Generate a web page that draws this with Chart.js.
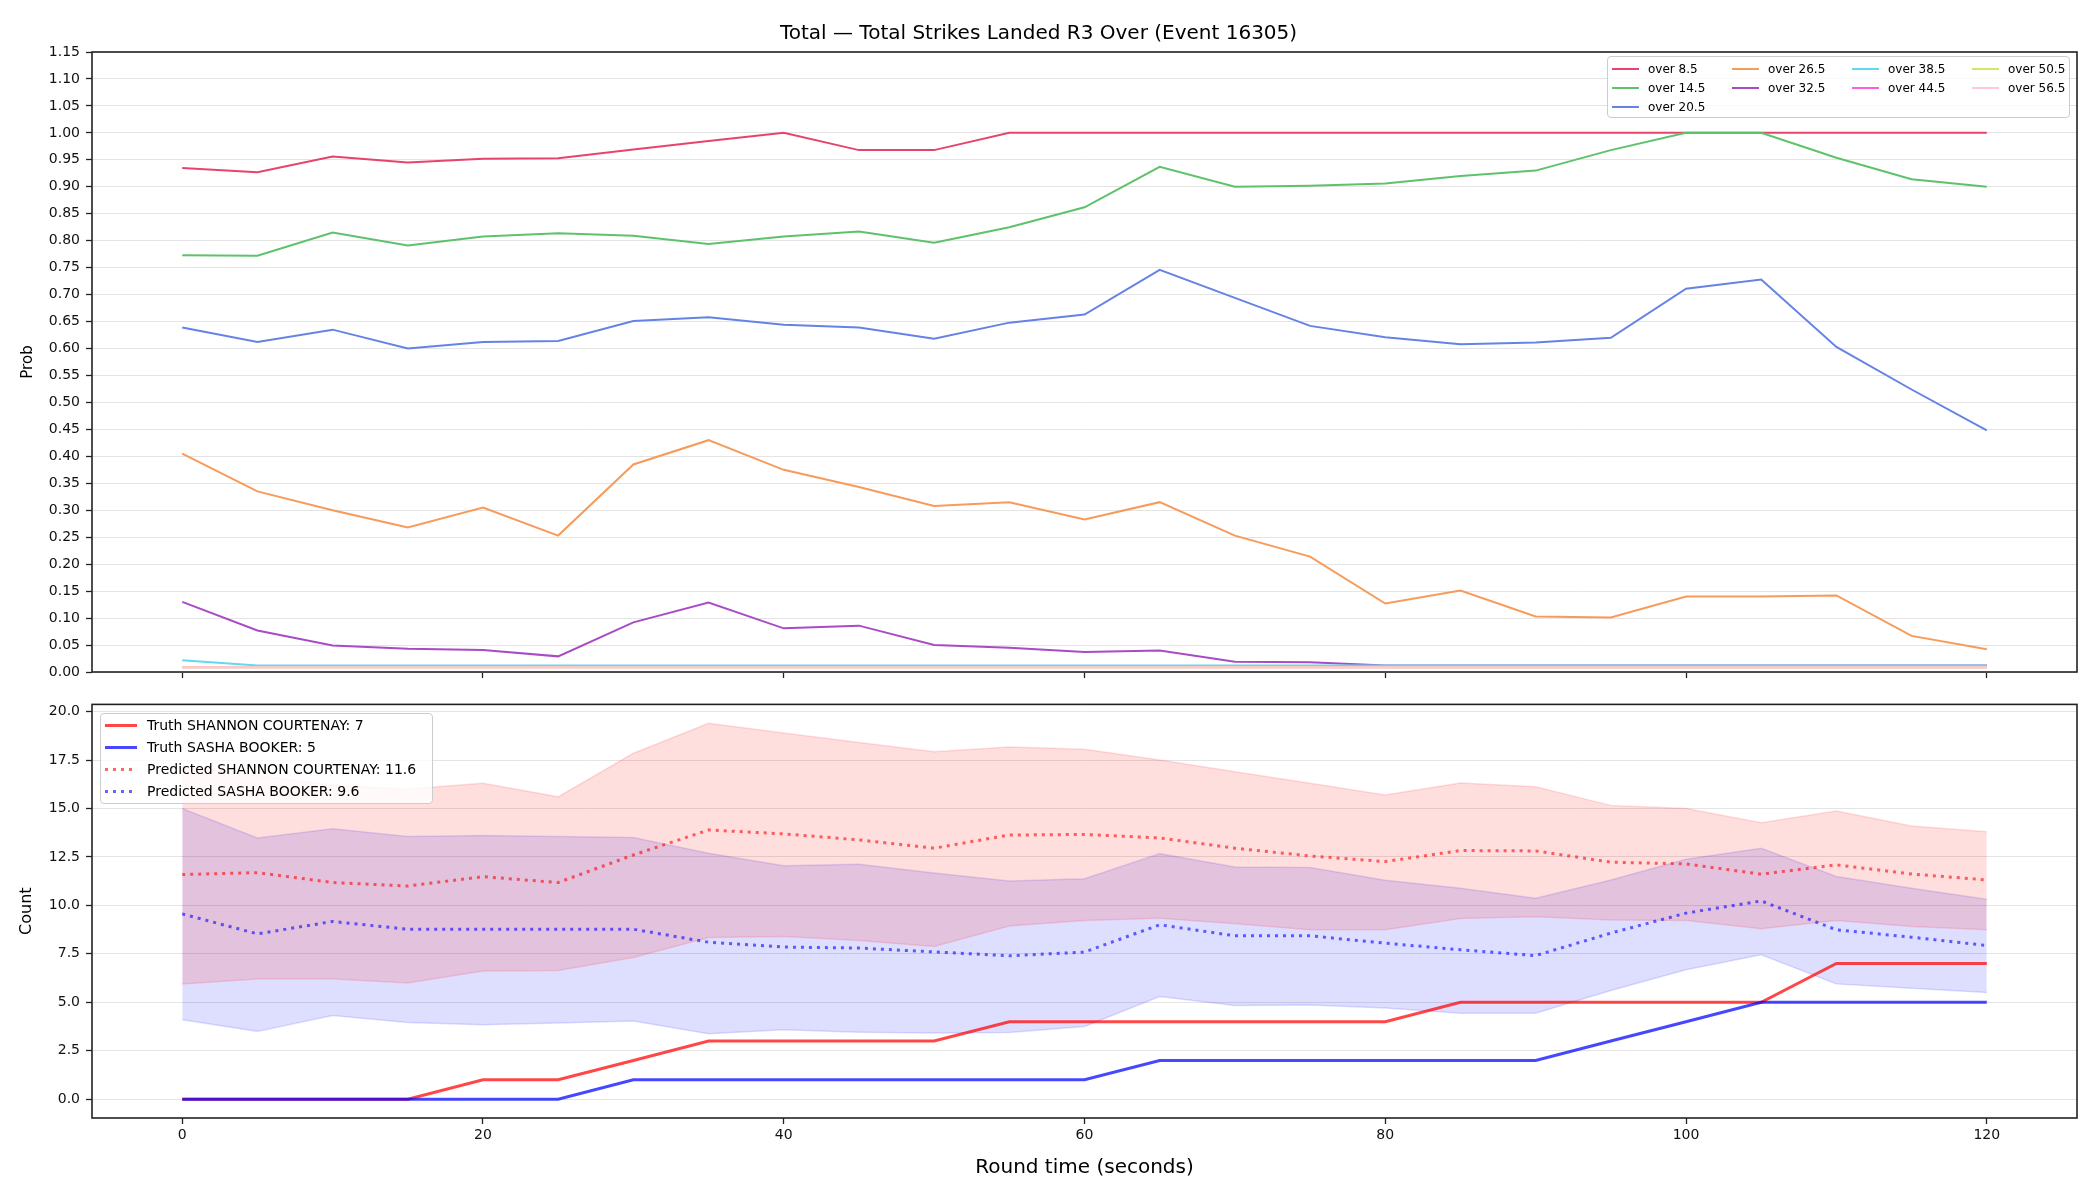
<!DOCTYPE html>
<html>
<head>
<meta charset="utf-8">
<script src="https://cdn.jsdelivr.net/npm/chart.js@4.4.1/dist/chart.umd.min.js"></script>
<style>
  body { margin: 0; background: #fff; }
  #wrap { position: relative; width: 2100px; height: 1200px; font-family: "DejaVu Sans", sans-serif; }
  canvas { position: absolute; left: 0; }
  #probChart { top: 0; }
  #countChart { top: 690px; }
  .legend {
    position: absolute;
    box-sizing: border-box;
    border: 1.5px solid #cccccc;
    border-radius: 4px;
    background: rgba(255, 255, 255, 0.8);
    color: #000;
  }
  #probLegend {
    left: 1607px; top: 56px; width: 463px; height: 62px;
    display: grid;
    grid-template-rows: repeat(3, 19px);
    grid-template-columns: repeat(4, 120px);
    padding: 2px 0 0 4px;
    font-size: 12px;
  }
  #countLegend {
    left: 100px; top: 713px; width: 333px; height: 91px;
    display: grid;
    grid-template-rows: repeat(4, 22px);
    padding: 0 0 0 4px;
    font-size: 14px;
  }
  .item { display: flex; align-items: center; white-space: nowrap; }
  #probLegend .swatch { width: 27px; height: 2px; margin-right: 9px; }
  #countLegend .swatch { width: 32px; height: 3px; margin-right: 10px; }
</style>
</head>
<body>
<div id="wrap">
  <canvas id="probChart" width="2100" height="690"></canvas>
  <canvas id="countChart" width="2100" height="510"></canvas>
  <div id="probLegend" class="legend"></div>
  <div id="countLegend" class="legend"></div>
</div>
<script>
// round time in seconds
const times = [0, 5, 10, 15, 20, 25, 30, 35, 40, 45, 50, 55, 60, 65, 70, 75, 80, 85, 90, 95, 100, 105, 110, 115, 120];
const xTicks = [0, 20, 40, 60, 80, 100, 120];
const probTicks = [0, 0.05, 0.1, 0.15, 0.2, 0.25, 0.3, 0.35, 0.4, 0.45, 0.5, 0.55, 0.6, 0.65, 0.7, 0.75, 0.8, 0.85, 0.9, 0.95, 1.0, 1.05, 1.1, 1.15];
const countTicks = [0, 2.5, 5, 7.5, 10, 12.5, 15, 17.5, 20];

// over/under probabilities (top panel)
const overLabels = ["over 8.5", "over 14.5", "over 20.5", "over 26.5", "over 32.5", "over 38.5", "over 44.5", "over 50.5", "over 56.5"];
const overColors = ["#e6446c", "#5ec26b", "#6583e4", "#f79b5a", "#a84cc4", "#62d9ef", "#ff5ce4", "#cfe86a", "#ffc8d6"];
const over8_5 = [0.935, 0.927, 0.956, 0.945, 0.952, 0.953, 0.969, 0.985, 1.0, 0.968, 0.968, 1.0, 1.0, 1.0, 1.0, 1.0, 1.0, 1.0, 1.0, 1.0, 1.0, 1.0, 1.0, 1.0, 1.0];
const over14_5 = [0.773, 0.772, 0.815, 0.791, 0.808, 0.814, 0.809, 0.794, 0.808, 0.817, 0.796, 0.825, 0.862, 0.937, 0.9, 0.902, 0.906, 0.92, 0.93, 0.968, 1.0, 1.0, 0.954, 0.914, 0.9];
const over20_5 = [0.639, 0.612, 0.635, 0.6, 0.612, 0.614, 0.651, 0.658, 0.644, 0.639, 0.618, 0.648, 0.663, 0.746, 0.694, 0.642, 0.621, 0.608, 0.611, 0.62, 0.711, 0.728, 0.603, 0.524, 0.448];
const over26_5 = [0.405, 0.335, 0.3, 0.268, 0.305, 0.253, 0.385, 0.43, 0.375, 0.343, 0.308, 0.315, 0.283, 0.315, 0.253, 0.214, 0.127, 0.151, 0.103, 0.101, 0.14, 0.14, 0.142, 0.067, 0.042];
const over32_5 = [0.13, 0.077, 0.049, 0.043, 0.041, 0.029, 0.092, 0.129, 0.081, 0.086, 0.05, 0.045, 0.037, 0.04, 0.019, 0.018, 0.012, 0.012, 0.012, 0.012, 0.012, 0.012, 0.012, 0.012, 0.012];
const over38_5 = [0.022, 0.012, 0.012, 0.012, 0.012, 0.012, 0.012, 0.012, 0.012, 0.012, 0.012, 0.012, 0.012, 0.012, 0.012, 0.012, 0.012, 0.012, 0.012, 0.012, 0.012, 0.012, 0.012, 0.012, 0.012];
const over44_5 = [0.009, 0.009, 0.009, 0.009, 0.009, 0.009, 0.009, 0.009, 0.009, 0.009, 0.009, 0.009, 0.009, 0.009, 0.009, 0.009, 0.009, 0.009, 0.009, 0.009, 0.009, 0.009, 0.009, 0.009, 0.009];
const over50_5 = [0.009, 0.009, 0.009, 0.009, 0.009, 0.009, 0.009, 0.009, 0.009, 0.009, 0.009, 0.009, 0.009, 0.009, 0.009, 0.009, 0.009, 0.009, 0.009, 0.009, 0.009, 0.009, 0.009, 0.009, 0.009];
const over56_5 = [0.009, 0.009, 0.009, 0.009, 0.009, 0.009, 0.009, 0.009, 0.009, 0.009, 0.009, 0.009, 0.009, 0.009, 0.009, 0.009, 0.009, 0.009, 0.009, 0.009, 0.009, 0.009, 0.009, 0.009, 0.009];
const overSeries = [over8_5, over14_5, over20_5, over26_5, over32_5, over38_5, over44_5, over50_5, over56_5];

// strike counts (bottom panel)
const truthShannon = [0, 0, 0, 0, 1, 1, 2, 3, 3, 3, 3, 4, 4, 4, 4, 4, 4, 5, 5, 5, 5, 5, 7, 7, 7];
const truthSasha = [0, 0, 0, 0, 0, 0, 1, 1, 1, 1, 1, 1, 1, 2, 2, 2, 2, 2, 2, 3, 4, 5, 5, 5, 5];
const predShannon = [11.59, 11.69, 11.18, 11.0, 11.48, 11.18, 12.6, 13.89, 13.69, 13.38, 12.95, 13.63, 13.66, 13.48, 12.95, 12.55, 12.26, 12.83, 12.81, 12.23, 12.14, 11.61, 12.09, 11.62, 11.31];
const predSasha = [9.56, 8.53, 9.17, 8.77, 8.77, 8.77, 8.77, 8.1, 7.85, 7.8, 7.6, 7.4, 7.59, 9.0, 8.43, 8.43, 8.05, 7.71, 7.41, 8.57, 9.6, 10.23, 8.74, 8.36, 7.93];
const shannonHi = [17.2, 16.7, 16.2, 16.0, 16.3, 15.6, 17.85, 19.4, 18.9, 18.4, 17.93, 18.17, 18.05, 17.5, 16.9, 16.3, 15.7, 16.31, 16.12, 15.16, 15.0, 14.27, 14.87, 14.1, 13.8];
const shannonLo = [5.94, 6.2, 6.2, 6.0, 6.62, 6.64, 7.31, 8.34, 8.39, 8.19, 7.88, 8.94, 9.22, 9.34, 9.05, 8.74, 8.74, 9.32, 9.42, 9.25, 9.22, 8.8, 9.22, 8.91, 8.74];
const sashaHi = [15.0, 13.48, 13.96, 13.55, 13.6, 13.55, 13.5, 12.69, 12.05, 12.12, 11.67, 11.26, 11.37, 12.67, 11.98, 11.95, 11.3, 10.89, 10.37, 11.31, 12.38, 12.95, 11.49, 10.89, 10.32];
const sashaLo = [4.1, 3.5, 4.32, 3.96, 3.84, 3.93, 4.03, 3.38, 3.58, 3.46, 3.41, 3.44, 3.75, 5.3, 4.84, 4.86, 4.7, 4.44, 4.43, 5.61, 6.68, 7.45, 5.95, 5.73, 5.5];

Chart.defaults.font.family = "DejaVu Sans";
Chart.defaults.color = "#000";

function toPoints(values) {
  return values.map((v, i) => ({ x: times[i], y: v }));
}

// matplotlib style full box round the plot area
const frame = {
  id: "frame",
  afterDraw(chart) {
    const { ctx, chartArea: a } = chart;
    ctx.save();
    ctx.strokeStyle = "#222";
    ctx.lineWidth = 1.6;
    ctx.strokeRect(a.left, a.top, a.right - a.left, a.bottom - a.top);
    ctx.restore();
  },
};

function xScale(height, showLabels, titleText) {
  return {
    type: "linear",
    min: -6,
    max: 126,
    bounds: "data",
    afterBuildTicks: (scale) => {
      scale.ticks = xTicks.map((v) => ({ value: v }));
    },
    afterFit: (scale) => {
      scale.height = height;
    },
    grid: { drawOnChartArea: false, tickLength: 6, tickColor: "#222", tickWidth: 1.3 },
    border: { display: false },
    ticks: { display: showLabels, padding: 3, font: { size: 14 }, color: "#111", maxRotation: 0 },
    title: titleText
      ? { display: true, text: titleText, font: { size: 20 }, color: "#000", padding: { top: 0, bottom: 20 } }
      : { display: false },
  };
}

function yScale(min, max, tickValues, digits, titleText, titleSize, titlePad) {
  return {
    type: "linear",
    min,
    max,
    bounds: "data",
    afterBuildTicks: (scale) => {
      scale.ticks = tickValues.map((v) => ({ value: v }));
    },
    afterFit: (scale) => {
      scale.width = 92;
    },
    grid: { color: "#e4e4e4", lineWidth: 1, tickLength: 6, tickColor: "#222", tickWidth: 1.3 },
    border: { display: false },
    ticks: {
      autoSkip: false,
      padding: 6,
      font: { size: 14 },
      color: "#111",
      callback: (v) => Number(v).toFixed(digits),
    },
    title: { display: true, text: titleText, font: { size: titleSize }, color: "#000", padding: { top: titlePad, bottom: 0 } },
  };
}

const probDatasets = overSeries.map((values, i) => ({
  label: overLabels[i],
  data: toPoints(values),
  borderColor: overColors[i],
  borderWidth: 2,
  pointRadius: 0,
  tension: 0,
  fill: false,
  order: overSeries.length - i,
}));

new Chart(document.getElementById("probChart"), {
  type: "line",
  data: { datasets: probDatasets },
  options: {
    responsive: false,
    animation: false,
    devicePixelRatio: 1,
    layout: { padding: { left: 0, right: 23, top: 0, bottom: 0 } },
    plugins: {
      legend: { display: false },
      tooltip: { enabled: false },
      title: {
        display: true,
        text: "Total — Total Strikes Landed R3 Over (Event 16305)",
        font: { size: 20, weight: "normal" },
        color: "#000",
        padding: { top: 22, bottom: 6 },
      },
    },
    scales: {
      x: xScale(18, false, null),
      y: yScale(0, 1.15, probTicks, 2, "Prob", 15, 19),
    },
  },
  plugins: [frame],
});

const countDatasets = [
  { label: "Truth SHANNON COURTENAY: 7", data: toPoints(truthShannon), borderColor: "rgba(255, 0, 0, 0.72)", borderWidth: 3, order: 1, legend: true },
  { label: "Truth SASHA BOOKER: 5", data: toPoints(truthSasha), borderColor: "rgba(0, 0, 255, 0.72)", borderWidth: 3, order: 0, legend: true },
  { label: "Predicted SHANNON COURTENAY: 11.6", data: toPoints(predShannon), borderColor: "rgba(255, 0, 0, 0.6)", borderWidth: 3, borderDash: [3, 5], order: 3, legend: true },
  { label: "Predicted SASHA BOOKER: 9.6", data: toPoints(predSasha), borderColor: "rgba(0, 0, 255, 0.6)", borderWidth: 3, borderDash: [3, 5], order: 2, legend: true },
  { label: "shannon hi", data: toPoints(shannonHi), borderColor: "rgba(255, 0, 0, 0.13)", borderWidth: 1.5, fill: "+1", backgroundColor: "rgba(255, 0, 0, 0.13)", order: 5 },
  { label: "shannon lo", data: toPoints(shannonLo), borderColor: "rgba(255, 0, 0, 0.13)", borderWidth: 1.5, order: 5 },
  { label: "sasha hi", data: toPoints(sashaHi), borderColor: "rgba(0, 0, 255, 0.13)", borderWidth: 1.5, fill: "+1", backgroundColor: "rgba(0, 0, 255, 0.13)", order: 6 },
  { label: "sasha lo", data: toPoints(sashaLo), borderColor: "rgba(0, 0, 255, 0.13)", borderWidth: 1.5, order: 6 },
].map((d) => ({ pointRadius: 0, tension: 0, fill: false, ...d }));

new Chart(document.getElementById("countChart"), {
  type: "line",
  data: { datasets: countDatasets },
  options: {
    responsive: false,
    animation: false,
    devicePixelRatio: 1,
    layout: { padding: { left: 0, right: 23, top: 14, bottom: 0 } },
    plugins: {
      legend: { display: false },
      tooltip: { enabled: false },
    },
    scales: {
      x: xScale(82, true, "Round time (seconds)"),
      y: yScale(-0.97, 20.37, countTicks, 1, "Count", 16, 17),
    },
  },
  plugins: [frame],
});

// matplotlib fills legend columns top to bottom, first column gets the extra row
function legendCells(count, cols) {
  const rows = Math.ceil(count / cols);
  const extra = count % cols || cols;
  const cells = [];
  for (let c = 0; c < cols; c++) {
    const n = c < extra ? rows : rows - 1;
    for (let r = 0; r < n; r++) cells.push({ row: r + 1, col: c + 1 });
  }
  return cells;
}

function buildLegend(box, datasets, cols) {
  const cells = legendCells(datasets.length, cols);
  box.innerHTML = datasets
    .map((d, i) => {
      const color = d.borderColor;
      const swatch = d.borderDash
        ? `background: repeating-linear-gradient(to right, ${color} 0 3px, transparent 3px 8px);`
        : `background: ${color};`;
      return `
        <div class="item" style="grid-row: ${cells[i].row}; grid-column: ${cells[i].col};">
          <span class="swatch" style="${swatch}"></span>
          <span>${d.label}</span>
        </div>
      `;
    })
    .join("");
}

buildLegend(document.getElementById("probLegend"), probDatasets, 4);
buildLegend(document.getElementById("countLegend"), countDatasets.filter((d) => d.legend), 1);
</script>
</body>
</html>
